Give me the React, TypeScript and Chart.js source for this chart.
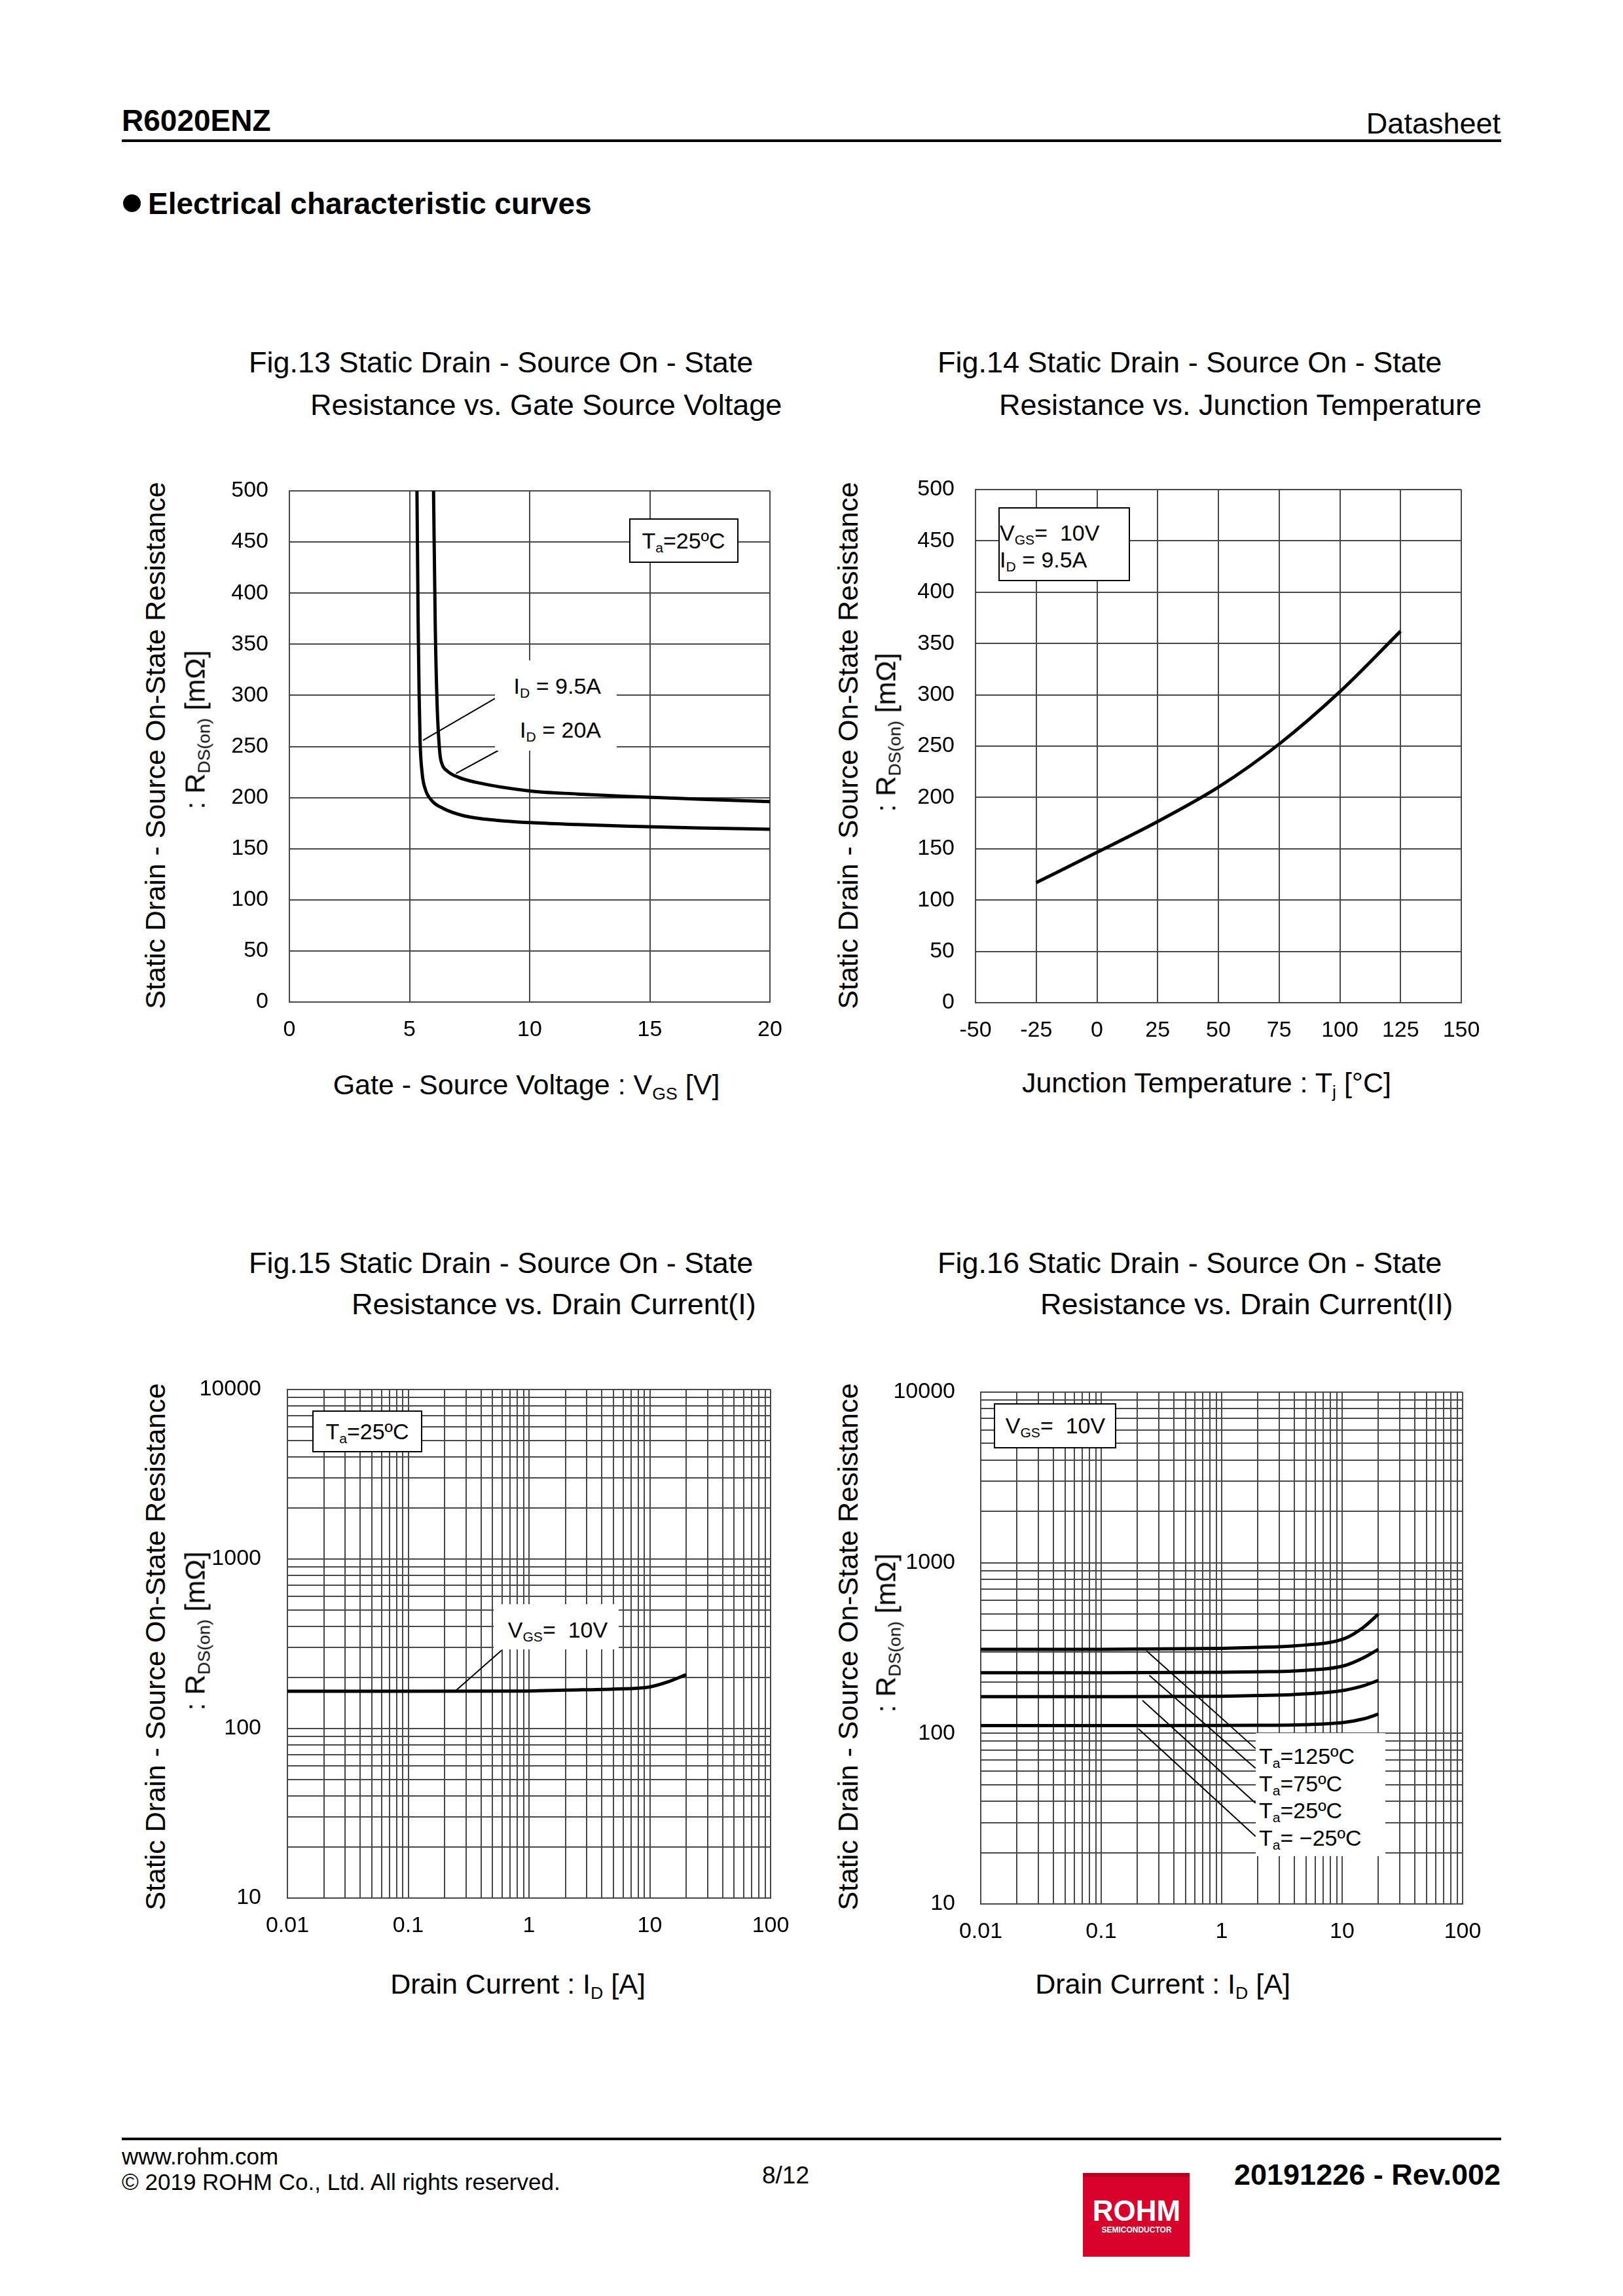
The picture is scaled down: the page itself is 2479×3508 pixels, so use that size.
import React, { useEffect, useRef } from 'react';
import { Chart, registerables } from 'chart.js';

Chart.register(...registerables);

const FONT = '"Liberation Sans", Arial, Helvetica, sans-serif';

// ---------- Fig.13 : RDS(on) vs VGS ----------
const fig13Vgs95 = [5.31, 5.36, 5.4, 5.44, 5.53, 5.66, 5.93, 6.39, 7.3, 8.66, 10, 12, 14, 17, 20];
const fig13R95 = [500, 370, 300, 255, 223, 208, 197, 189.5, 182, 177.7, 175.5, 173.6, 172.0, 170.3, 169];
const fig13Vgs20 = [6.0, 6.07, 6.15, 6.26, 6.35, 6.57, 7.02, 7.75, 10, 12, 14, 17, 20];
const fig13R20 = [500, 370, 290, 244, 233, 226, 220, 215, 206.5, 203.5, 201.2, 198.5, 196];
const fig13Leader95: [number, number][] = [[5.56, 256], [8.56, 297]];
const fig13Leader20: [number, number][] = [[6.93, 223.5], [8.69, 246]];

// ---------- Fig.14 : RDS(on) vs Tj ----------
const fig14Tj = [-25, 0, 25, 50, 75, 100, 125];
const fig14R = [117, 146.5, 176.5, 210, 252, 303, 362];

// ---------- Fig.15 : RDS(on) vs ID (I) ----------
const fig15Id = [0.01, 0.1, 1, 2, 5, 10, 14, 20];
const fig15R = [166, 166, 166.5, 168.5, 171, 176, 188, 208];
const fig15Leader: [number, number][] = [[0.247, 167], [0.591, 289]];

// ---------- Fig.16 : RDS(on) vs ID (II) ----------
const fig16Id = [0.01, 0.1, 1, 2, 4, 10.5, 15, 20];
const fig16R125 = [311, 311, 315, 319, 325.5, 360, 418, 500];
const fig16R75 = [226.6, 226.6, 228, 229.5, 232, 249.7, 276.7, 311];
const fig16R25 = [164, 164, 165, 166.5, 169, 179, 190, 204.4];
const fig16Rm25 = [111, 111, 111.2, 111.5, 112, 116, 121.5, 129.6];
const fig16Leader125: [number, number][] = [[0.2384, 304], [1.91, 81.4]];
const fig16Leader75: [number, number][] = [[0.251, 218.8], [1.91, 62.4]];
const fig16Leader25: [number, number][] = [[0.22, 156], [1.91, 39]];
const fig16LeaderM25: [number, number][] = [[0.2034, 106.4], [1.91, 24.9]];

// ---------- log axis tick labels ----------
const logXTickValues = [0.01, 0.1, 1, 10, 100];
const logXTickLabels = ['0.01', '0.1', '1', '10', '100'];
const logYTickValues = [10, 100, 1000, 10000];
const logYTickLabels = ['10', '100', '1000', '10000'];

// ---------- layout ----------
const YW = 170;
const PR = 80;
const PT = 70;
const XH = 90;
const G13 = { L: 442, T: 750, R: 1176, B: 1531 };
const G14 = { L: 1490, T: 748, R: 2232, B: 1532 };
const G15 = { L: 439, T: 2123, R: 1177, B: 2900 };
const G16 = { L: 1498, T: 2127, R: 2234, B: 2909 };

const GRID_COLOR = '#484848';
const GRID_W = 2;
const tickFont = { family: FONT, size: 34 };

function logGrid(minExp: number, maxExp: number): number[] {
  const out: number[] = [];
  for (let e = minExp; e < maxExp; e++) {
    for (let m = 1; m <= 9; m++) out.push(Number((m * Math.pow(10, e)).toPrecision(6)));
  }
  out.push(Number(Math.pow(10, maxExp).toPrecision(6)));
  return out;
}

function linAxis(min: number, max: number, step: number, pad: number, isX: boolean): any {
  return {
    type: 'linear',
    min,
    max,
    ticks: {
      stepSize: step,
      font: tickFont,
      color: '#000',
      padding: pad,
      maxRotation: 0,
      minRotation: 0,
      autoSkip: false,
    },
    grid: { color: GRID_COLOR, lineWidth: GRID_W, drawTicks: false },
    border: { display: true, color: GRID_COLOR, width: GRID_W },
    afterFit: (s: any) => {
      if (isX) s.height = XH;
      else s.width = YW;
    },
  };
}

function logAxis(
  min: number,
  max: number,
  grid: number[],
  labelVals: number[],
  labels: string[],
  pad: number,
  isX: boolean
): any {
  return {
    type: 'logarithmic',
    min,
    max,
    afterBuildTicks: (s: any) => {
      s.ticks = grid.map((v) => ({ value: v }));
    },
    ticks: {
      font: tickFont,
      color: '#000',
      padding: pad,
      maxRotation: 0,
      minRotation: 0,
      autoSkip: false,
      callback: (v: any) => {
        const n = Number(v);
        const i = labelVals.findIndex((m) => Math.abs(Math.log10(m) - Math.log10(n)) < 1e-6);
        return i >= 0 ? labels[i] : '';
      },
    },
    grid: { color: GRID_COLOR, lineWidth: GRID_W, drawTicks: false },
    border: { display: true, color: GRID_COLOR, width: GRID_W },
    afterFit: (s: any) => {
      if (isX) s.height = XH;
      else s.width = YW;
    },
  };
}

function curve(xs: number[], ys: number[]): any {
  return {
    data: xs.map((x, i) => ({ x, y: ys[i] })),
    borderColor: '#000',
    borderWidth: 5,
    pointRadius: 0,
    fill: false,
    cubicInterpolationMode: 'monotone',
  };
}

function leader(pts: [number, number][]): any {
  return {
    data: pts.map(([x, y]) => ({ x, y })),
    borderColor: '#000',
    borderWidth: 2,
    pointRadius: 0,
    fill: false,
    tension: 0,
  };
}

function baseOptions(x: any, y: any): any {
  return {
    responsive: false,
    animation: false,
    events: [],
    layout: { padding: { top: PT, right: PR, left: 0, bottom: 0 } },
    plugins: { legend: { display: false }, tooltip: { enabled: false }, title: { display: false } },
    scales: { x, y },
  };
}

const configs: Record<string, () => any> = {
  fig13: () => ({
    type: 'line',
    data: {
      datasets: [
        curve(fig13Vgs95, fig13R95),
        curve(fig13Vgs20, fig13R20),
        leader(fig13Leader95),
        leader(fig13Leader20),
      ],
    },
    options: baseOptions(linAxis(0, 20, 5, 22, true), linAxis(0, 500, 50, 32, false)),
  }),
  fig14: () => ({
    type: 'line',
    data: { datasets: [curve(fig14Tj, fig14R)] },
    options: baseOptions(linAxis(-50, 150, 25, 22, true), linAxis(0, 500, 50, 32, false)),
  }),
  fig15: () => ({
    type: 'line',
    data: { datasets: [curve(fig15Id, fig15R), leader(fig15Leader)] },
    options: baseOptions(
      logAxis(0.01, 100, logGrid(-2, 2), logXTickValues, logXTickLabels, 22, true),
      logAxis(10, 10000, logGrid(1, 4), logYTickValues, logYTickLabels, 40, false)
    ),
  }),
  fig16: () => ({
    type: 'line',
    data: {
      datasets: [
        curve(fig16Id, fig16R125),
        curve(fig16Id, fig16R75),
        curve(fig16Id, fig16R25),
        curve(fig16Id, fig16Rm25),
        leader(fig16Leader125),
        leader(fig16Leader75),
        leader(fig16Leader25),
        leader(fig16LeaderM25),
      ],
    },
    options: baseOptions(
      logAxis(0.01, 100, logGrid(-2, 2), logXTickValues, logXTickLabels, 22, true),
      logAxis(10, 10000, logGrid(1, 4), logYTickValues, logYTickLabels, 39, false)
    ),
  }),
};

type Geom = { L: number; T: number; R: number; B: number };

function ChartBox({ geom, name }: { geom: Geom; name: string }) {
  const ref = useRef<HTMLCanvasElement>(null);
  useEffect(() => {
    if (!ref.current) return;
    const chart = new Chart(ref.current, configs[name]());
    return () => chart.destroy();
  }, [name]);
  const w = geom.R - geom.L + YW + PR;
  const h = geom.B - geom.T + PT + XH;
  return (
    <canvas
      ref={ref}
      width={w}
      height={h}
      style={{ position: 'absolute', left: geom.L - YW, top: geom.T - PT, width: w, height: h }}
    />
  );
}

type TP = {
  x: number;
  y: number;
  size: number;
  bold?: boolean;
  anchor?: 'start' | 'middle' | 'end';
  color?: string;
  children?: any;
};

function Txt({ x, y, size, bold, anchor = 'start', color = '#000', children }: TP) {
  const tx = anchor === 'start' ? '0' : anchor === 'middle' ? '-50%' : '-100%';
  return (
    <div
      style={{
        position: 'absolute',
        left: x,
        top: y,
        transform: `translate(${tx}, -50%)`,
        fontFamily: FONT,
        fontSize: size,
        fontWeight: bold ? 700 : 400,
        lineHeight: 1,
        whiteSpace: 'pre',
        color,
      }}
    >
      {children}
    </div>
  );
}

function VTxt({ x, y, size, children }: { x: number; y: number; size: number; children?: any }) {
  return (
    <div
      style={{
        position: 'absolute',
        left: x,
        top: y,
        transform: 'translate(-50%, -50%) rotate(-90deg)',
        fontFamily: FONT,
        fontSize: size,
        lineHeight: 1,
        whiteSpace: 'pre',
        color: '#000',
      }}
    >
      {children}
    </div>
  );
}

const Sub = ({ children }: { children?: any }) => (
  <span style={{ fontSize: '0.62em', position: 'relative', top: '0.3em' }}>{children}</span>
);

function Box({ l, t, r, b, border }: { l: number; t: number; r: number; b: number; border?: boolean }) {
  return (
    <div
      style={{
        position: 'absolute',
        left: l,
        top: t,
        width: r - l,
        height: b - t,
        background: '#fff',
        border: border ? '2px solid #000' : 'none',
        boxSizing: 'border-box',
      }}
    />
  );
}

function YTitle({ x1, y1, x2, y2 }: { x1: number; y1: number; x2: number; y2: number }) {
  return (
    <>
      <VTxt x={x1} y={y1} size={43}>
        Static Drain - Source On-State Resistance
      </VTxt>
      <VTxt x={x2} y={y2} size={43}>
        : R<Sub>DS(on)</Sub> [mΩ]
      </VTxt>
    </>
  );
}

export default function App() {
  return (
    <div
      style={{
        position: 'absolute',
        left: 0,
        top: 0,
        width: 2479,
        height: 3508,
        background: '#fff',
        overflow: 'hidden',
      }}
    >
      {/* Header */}
      <Txt x={186} y={184} size={46} bold>
        R6020ENZ
      </Txt>
      <Txt x={2292} y={188} size={45} anchor="end">
        Datasheet
      </Txt>
      <div style={{ position: 'absolute', left: 186, top: 213, width: 2107, height: 4, background: '#000' }} />
      <div
        style={{
          position: 'absolute',
          left: 188,
          top: 297,
          width: 27,
          height: 27,
          borderRadius: '50%',
          background: '#000',
        }}
      />
      <Txt x={226} y={311} size={46} bold>
        Electrical characteristic curves
      </Txt>

      {/* Figure titles */}
      <Txt x={380} y={553} size={45}>
        Fig.13 Static Drain - Source On - State
      </Txt>
      <Txt x={474} y={618} size={45}>
        Resistance vs. Gate Source Voltage
      </Txt>
      <Txt x={1432} y={553} size={45}>
        Fig.14 Static Drain - Source On - State
      </Txt>
      <Txt x={1526} y={618} size={45}>
        Resistance vs. Junction Temperature
      </Txt>
      <Txt x={380} y={1929} size={45}>
        Fig.15 Static Drain - Source On - State
      </Txt>
      <Txt x={537} y={1992} size={45}>
        Resistance vs. Drain Current(I)
      </Txt>
      <Txt x={1432} y={1929} size={45}>
        Fig.16 Static Drain - Source On - State
      </Txt>
      <Txt x={1589} y={1992} size={45}>
        Resistance vs. Drain Current(II)
      </Txt>

      {/* Charts */}
      <ChartBox geom={G13} name="fig13" />
      <ChartBox geom={G14} name="fig14" />
      <ChartBox geom={G15} name="fig15" />
      <ChartBox geom={G16} name="fig16" />

      {/* Fig.13 annotations */}
      <Box l={961} t={792} r={1128} b={860} border />
      <Txt x={1044} y={826} size={34} anchor="middle">
        T<Sub>a</Sub>=25ºC
      </Txt>
      <Box l={756} t={1009} r={942} b={1147} />
      <Txt x={918} y={1048} size={34} anchor="end">
        I<Sub>D</Sub> = 9.5A
      </Txt>
      <Txt x={918} y={1115} size={34} anchor="end">
        I<Sub>D</Sub> = 20A
      </Txt>
      <YTitle x1={237} y1={1139} x2={298} y2={1115} />
      <Txt x={804} y={1657} size={43} anchor="middle">
        Gate - Source Voltage : V<Sub>GS</Sub> [V]
      </Txt>

      {/* Fig.14 annotations */}
      <Box l={1525} t={775} r={1726} b={888} border />
      <Txt x={1527} y={814} size={34}>
        V<Sub>GS</Sub>= {'\u00a0'}10V
      </Txt>
      <Txt x={1527} y={855} size={34}>
        I<Sub>D</Sub> = 9.5A
      </Txt>
      <YTitle x1={1295} y1={1139} x2={1353} y2={1119} />
      <Txt x={1843} y={1654} size={43} anchor="middle">
        Junction Temperature : T<Sub>j</Sub> [°C]
      </Txt>

      {/* Fig.15 annotations */}
      <Box l={477} t={2155} r={645} b={2219} border />
      <Txt x={561} y={2187} size={34} anchor="middle">
        T<Sub>a</Sub>=25ºC
      </Txt>
      <Box l={754} t={2451} r={945} b={2520} />
      <Txt x={852} y={2490} size={34} anchor="middle">
        V<Sub>GS</Sub>= {'\u00a0'}10V
      </Txt>
      <YTitle x1={237} y1={2516} x2={298} y2={2492} />
      <Txt x={791} y={3031} size={43} anchor="middle">
        Drain Current : I<Sub>D</Sub> [A]
      </Txt>

      {/* Fig.16 annotations */}
      <Box l={1518} t={2144} r={1705} b={2213} border />
      <Txt x={1612} y={2178} size={34} anchor="middle">
        V<Sub>GS</Sub>= {'\u00a0'}10V
      </Txt>
      <Box l={1918} t={2648} r={2116} b={2836} />
      <Txt x={1923} y={2683} size={34}>
        T<Sub>a</Sub>=125ºC
      </Txt>
      <Txt x={1923} y={2725} size={34}>
        T<Sub>a</Sub>=75ºC
      </Txt>
      <Txt x={1923} y={2766} size={34}>
        T<Sub>a</Sub>=25ºC
      </Txt>
      <Txt x={1923} y={2808} size={34}>
        T<Sub>a</Sub>= −25ºC
      </Txt>
      <YTitle x1={1295} y1={2516} x2={1353} y2={2495} />
      <Txt x={1776} y={3031} size={43} anchor="middle">
        Drain Current : I<Sub>D</Sub> [A]
      </Txt>

      {/* Footer */}
      <div style={{ position: 'absolute', left: 186, top: 3266, width: 2107, height: 4, background: '#000' }} />
      <Txt x={186} y={3294} size={35}>
        www.rohm.com
      </Txt>
      <Txt x={186} y={3333} size={35}>
        © 2019 ROHM Co., Ltd. All rights reserved.
      </Txt>
      <Txt x={1200} y={3323} size={37} anchor="middle">
        8/12
      </Txt>
      <Txt x={2292} y={3322} size={45} bold anchor="end">
        20191226 - Rev.002
      </Txt>
      <div
        style={{
          position: 'absolute',
          left: 1654,
          top: 3320,
          width: 163,
          height: 128,
          background: '#d9022c',
        }}
      >
        <div style={{ position: 'absolute', left: 0, top: 0, width: 163, height: 6, background: '#b8001f' }} />
      </div>
      <Txt x={1736} y={3378} size={44} bold anchor="middle" color="#fff">
        ROHM
      </Txt>
      <Txt x={1736} y={3407} size={12} bold anchor="middle" color="#fff">
        SEMICONDUCTOR
      </Txt>
    </div>
  );
}
